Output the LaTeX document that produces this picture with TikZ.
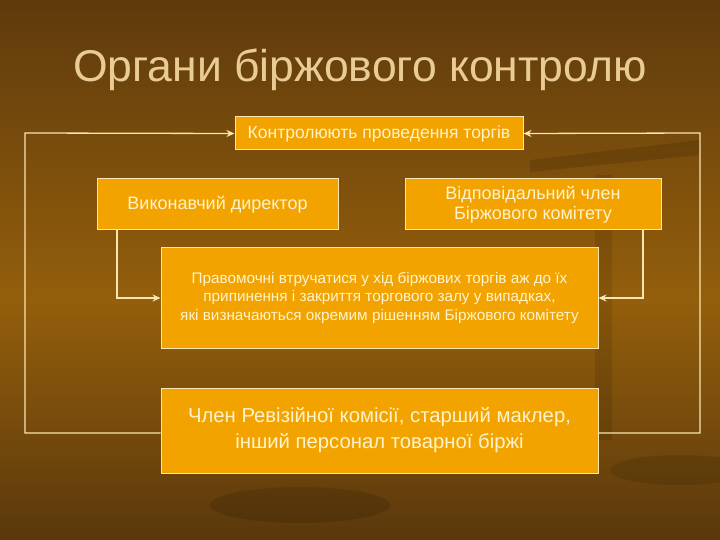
\documentclass[tikz,border=0pt]{standalone}
\usepackage{fontspec}
\setmainfont{Liberation Sans}
\usetikzlibrary{arrows.meta}
\definecolor{boxc}{HTML}{F2A300}
\definecolor{edgec}{HTML}{FAE6B0}
\definecolor{txt}{HTML}{FFF3CC}
\definecolor{bgtop}{HTML}{5E3A0C}
\definecolor{bgmid}{HTML}{945F0C}
\definecolor{bgbot}{HTML}{5A380C}
\definecolor{titc}{HTML}{E9CB95}
\begin{document}
\begin{tikzpicture}[x=1pt,y=-1pt,
  box/.style={draw=edgec,line width=1pt,fill=boxc,text=txt,align=center,inner sep=2pt},
  conn/.style={draw=edgec,line width=1.3pt,-{Stealth[length=8pt,width=7pt]}}]
\fill[top color=bgtop,bottom color=bgmid] (0,0) rectangle (720,300);
\fill[top color=bgmid,bottom color=bgbot] (0,300) rectangle (720,540);
\useasboundingbox (0,0) rectangle (720,540);
% faint scales
\fill[black,opacity=0.12] (530,160) -- (700,140) -- (700,155) -- (530,172) -- cycle;
\fill[black,opacity=0.10] (595,175) rectangle (612,440);
\fill[black,opacity=0.12] (300,505) ellipse (90 and 18);
\fill[black,opacity=0.10] (680,470) ellipse (70 and 15);
\node[text=titc,font=\fontsize{44.5}{50}\selectfont] (title) at (360,70) {Органи біржового контролю};
\node[box,minimum width=288,minimum height=33,font=\fontsize{17.5}{20}\selectfont] (b1) at (379,133.5) {Контролюють проведення торгів};
\node[box,minimum width=241,minimum height=51,font=\fontsize{18}{21}\selectfont] (b2) at (217.5,204.5) {Виконавчий директор};
\node[box,minimum width=256,minimum height=51,font=\fontsize{18}{20}\selectfont] (b3) at (533,204.5) {Відповідальний член\\Біржового комітету};
\node[box,minimum width=437,minimum height=101,font=\fontsize{15.3}{18.5}\selectfont] (b4) at (379.5,297.5) {Правомочні втручатися у хід біржових торгів аж до їх\\припинення і закриття торгового залу у випадках,\\які визначаються окремим рішенням Біржового комітету};
\node[box,minimum width=437,minimum height=85,font=\fontsize{20.3}{26}\selectfont] (b5) at (379.5,430.5) {Член Ревізійної комісії, старший маклер,\\інший персонал товарної біржі};
\coordinate (l1) at (25,433); \coordinate (l2) at (25,133);
\coordinate (r1) at (700,433); \coordinate (r2) at (700,133);
\draw[conn] (b5.west |- l1) -- (l1) -- (l2) -- (b1.west);
\draw[conn] (b5.east |- r1) -- (r1) -- (r2) -- (b1.east);
\coordinate (a1) at (117,298); \coordinate (a2) at (643,298);
\draw[conn] (b2.south -| a1) -- (a1) -- (b4.west |- a1);
\draw[conn] (b3.south -| a2) -- (a2) -- (b4.east |- a2);
\end{tikzpicture}
\end{document}
